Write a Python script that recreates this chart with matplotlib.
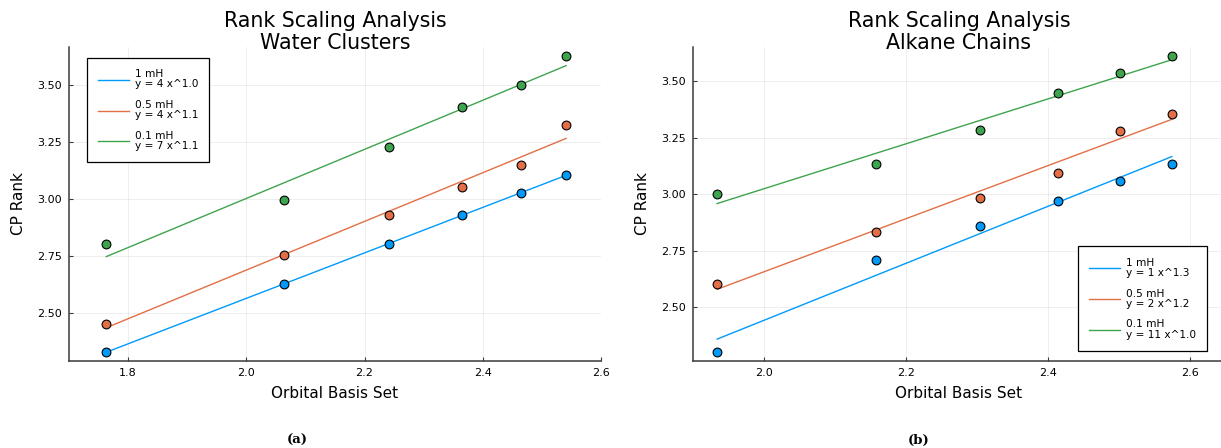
import numpy as np
import matplotlib
matplotlib.use("Agg")
import matplotlib.pyplot as plt

# log10 of basis-set size (x) and log10 of CP rank (y)
water_x = [1.763, 2.064, 2.241, 2.365, 2.464, 2.541]
water_1mH = [2.326, 2.626, 2.802, 2.928, 3.025, 3.104]
water_05mH = [2.450, 2.752, 2.928, 3.053, 3.150, 3.325]
water_01mH = [2.803, 2.994, 3.229, 3.405, 3.501, 3.628]

alkane_x = [1.934, 2.158, 2.305, 2.415, 2.502, 2.575]
alkane_1mH = [2.302, 2.709, 2.860, 2.970, 3.060, 3.133]
alkane_05mH = [2.605, 2.835, 2.985, 3.096, 3.282, 3.355]
alkane_01mH = [3.001, 3.136, 3.286, 3.448, 3.538, 3.612]

water_labels = ["1 mH\ny = 4 x^1.0", "0.5 mH\ny = 4 x^1.1", "0.1 mH\ny = 7 x^1.1"]
alkane_labels = ["1 mH\ny = 1 x^1.3", "0.5 mH\ny = 2 x^1.2", "0.1 mH\ny = 11 x^1.0"]

titles = ["Rank Scaling Analysis\nWater Clusters", "Rank Scaling Analysis\nAlkane Chains"]
captions = ["(a)", "(b)"]

colors = ["#009AFA", "#E26F46", "#3EA44E"]
axis_col = "#3a3a3a"

W, H = 1221, 448
fig = plt.figure(figsize=(W / 100, H / 100), dpi=100)


def px_axes(l, t, r, b):
    return fig.add_axes([l / W, 1 - b / H, (r - l) / W, (b - t) / H])


def draw_panel(ax, x, series, labels, title, xlim, xticks, legend_kw):
    x = np.asarray(x)
    handles = []
    for ys, c, lab in zip(series, colors, labels):
        ys = np.asarray(ys)
        slope, icpt = np.polyfit(x, ys, 1)
        xl = np.array([x[0], x[-1]])
        h, = ax.plot(xl, icpt + slope * xl, color=c, lw=1.0, label=lab, zorder=2)
        handles.append(h)
    for ys, c in zip(series, colors):
        ax.scatter(x, ys, s=40, color=c, edgecolor="black", linewidth=0.8, zorder=3)

    ally = np.concatenate([np.asarray(s) for s in series])
    span = ally.max() - ally.min()
    ax.set_ylim(ally.min() - 0.03 * span, ally.max() + 0.03 * span)
    ax.set_xlim(*xlim)
    ax.set_xticks(xticks)
    ax.set_xticklabels([f"{t:.1f}" for t in xticks])
    ax.set_yticks([2.50, 2.75, 3.00, 3.25, 3.50])
    ax.set_yticklabels(["2.50", "2.75", "3.00", "3.25", "3.50"])

    ax.grid(True, color="black", alpha=0.08, lw=0.6)
    ax.set_axisbelow(True)
    for s in ("top", "right"):
        ax.spines[s].set_visible(False)
    for s in ("left", "bottom"):
        ax.spines[s].set_color(axis_col)
        ax.spines[s].set_linewidth(1.1)
    ax.tick_params(direction="in", length=3, width=0.8, color=axis_col,
                   labelsize=8, labelcolor="black", pad=5)

    ax.set_xlabel("Orbital Basis Set", fontsize=11, labelpad=6)
    ax.set_ylabel("CP Rank", fontsize=11, labelpad=8)
    ax.set_title(title, fontsize=14.8, y=1.0, pad=-1.5, linespacing=1.12)

    leg = ax.legend(handles=handles, fontsize=7.6, frameon=True, fancybox=False,
                    edgecolor="black", framealpha=1, handlelength=3.0,
                    labelspacing=1.0, borderpad=1.05, handletextpad=0.5,
                    borderaxespad=0, **legend_kw)
    leg.get_frame().set_linewidth(0.9)
    for t in leg.get_texts():
        t.set_linespacing(1.05)


ax1 = px_axes(69, 47, 601, 361)
draw_panel(ax1, water_x, [water_1mH, water_05mH, water_01mH], water_labels, titles[0],
           (1.70, 2.60), [1.8, 2.0, 2.2, 2.4, 2.6],
           dict(loc="upper left", bbox_to_anchor=(0.033, 0.965)))

ax2 = px_axes(693, 47, 1225, 361)
draw_panel(ax2, alkane_x, [alkane_1mH, alkane_05mH, alkane_01mH], alkane_labels, titles[1],
           (1.90, 2.65), [2.0, 2.2, 2.4, 2.6],
           dict(loc="lower right", bbox_to_anchor=(0.966, 0.032)))

fig.text(297 / W, 1 - 440 / H, captions[0], ha="center", va="center",
         fontsize=9.5, fontweight="bold", family="DejaVu Serif")
fig.text(919 / W, 1 - 440 / H, captions[1], ha="center", va="center",
         fontsize=9.5, fontweight="bold", family="DejaVu Serif")

fig.savefig("out.png", dpi=100)
